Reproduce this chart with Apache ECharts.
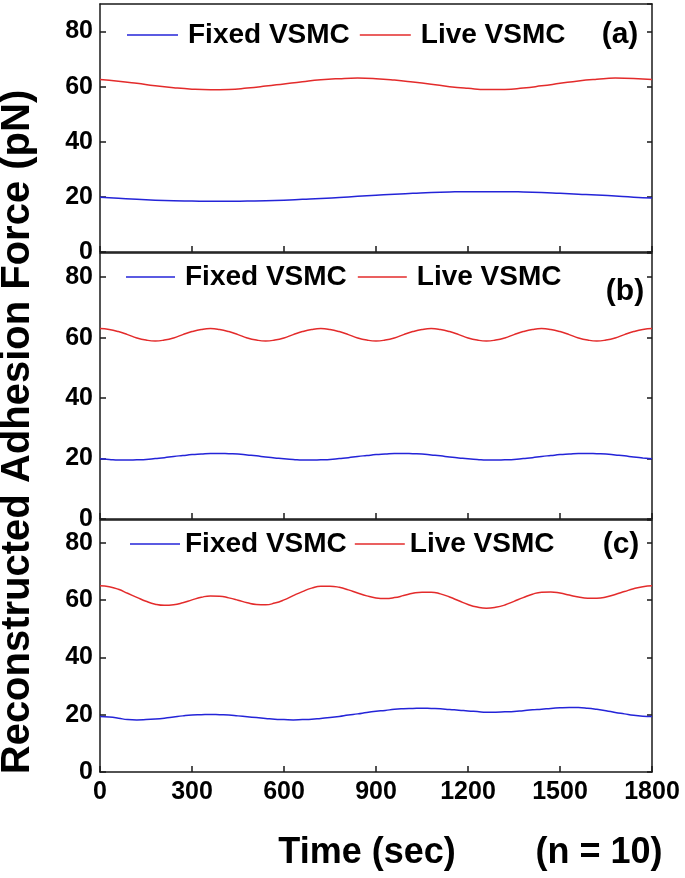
<!DOCTYPE html>
<html>
<head>
<meta charset="utf-8">
<script src="https://cdn.jsdelivr.net/npm/echarts@6/dist/echarts.min.js"></script>
<style>
html,body{margin:0;padding:0;background:#fff;}
#chart{width:685px;height:878px;}
</style>
</head>
<body>
<div id="chart"></div>
<script>
// ---- data ----
const seriesNames = ['Fixed VSMC', 'Live VSMC'];
const panelLabels = ['(a)', '(b)', '(c)'];
const xTickValues = [0, 300, 600, 900, 1200, 1500, 1800];
const yTickValues = [0, 20, 40, 60, 80];
const yMaxes = [90, 88, 88];

const timesA = [0,60,120,180,240,300,360,420,480,540,600,660,720,780,840,900,960,1020,1080,1140,1200,1260,1320,1380,1440,1500,1560,1620,1680,1740,1800];
const fixedA = [19.9,19.5,19.1,18.8,18.6,18.5,18.4,18.4,18.5,18.6,18.8,19.1,19.4,19.8,20.2,20.6,21.0,21.3,21.6,21.8,21.9,21.9,21.9,21.8,21.6,21.3,21.0,20.7,20.3,19.9,19.6];
const liveA = [62.6,62.0,61.2,60.3,59.6,59.1,58.9,59.0,59.5,60.2,61.0,61.8,62.5,62.9,63.1,62.9,62.4,61.7,60.9,60.0,59.4,59.0,59.0,59.5,60.3,61.2,62.1,62.7,63.1,63.0,62.6];

const timesBC = [0,30,60,90,120,150,180,210,240,270,300,330,360,390,420,450,480,510,540,570,600,630,660,690,720,750,780,810,840,870,900,930,960,990,1020,1050,1080,1110,1140,1170,1200,1230,1260,1290,1320,1350,1380,1410,1440,1470,1500,1530,1560,1590,1620,1650,1680,1710,1740,1770,1800];
const fixedB = [19.9,19.7,19.5,19.5,19.6,19.7,20.0,20.3,20.7,21.0,21.3,21.5,21.7,21.7,21.6,21.5,21.2,20.9,20.5,20.2,
  19.9,19.7,19.5,19.5,19.6,19.7,20.0,20.3,20.7,21.0,21.3,21.5,21.7,21.7,21.6,21.5,21.2,20.9,20.5,20.2,
  19.9,19.7,19.5,19.5,19.6,19.7,20.0,20.3,20.7,21.0,21.3,21.5,21.7,21.7,21.6,21.5,21.2,20.9,20.5,20.2,
  19.9];
const liveB = [63.0,62.7,62.0,61.0,59.9,59.2,58.9,59.2,59.9,61.0,62.0,62.7,
  63.0,62.7,62.0,61.0,59.9,59.2,58.9,59.2,59.9,61.0,62.0,62.7,
  63.0,62.7,62.0,61.0,59.9,59.2,58.9,59.2,59.9,61.0,62.0,62.7,
  63.0,62.7,62.0,61.0,59.9,59.2,58.9,59.2,59.9,61.0,62.0,62.7,
  63.0,62.7,62.0,61.0,59.9,59.2,58.9,59.2,59.9,61.0,62.0,62.7,
  63.0];
const fixedC = [19.4,19.2,18.8,18.3,18.2,18.3,18.5,18.8,19.2,19.6,19.9,20.0,20.1,20.0,19.9,19.6,19.3,19.0,18.7,18.4,
  18.3,18.2,18.3,18.4,18.7,19.0,19.4,19.9,20.3,20.8,21.2,21.5,21.9,22.1,22.2,22.3,22.2,22.1,21.8,21.6,
  21.3,21.1,20.9,20.9,21.0,21.1,21.4,21.7,21.9,22.2,22.4,22.5,22.5,22.3,21.9,21.4,20.8,20.3,19.8,19.5,
  19.4];
const liveC = [65.0,64.7,63.8,62.4,61.0,59.6,58.6,58.2,58.4,59.1,60.1,61.0,61.5,61.4,60.8,60.0,59.1,58.5,58.4,59.0,
  60.1,61.6,63.0,64.2,64.9,64.9,64.5,63.6,62.5,61.5,60.8,60.6,60.9,61.6,62.4,62.8,62.8,62.2,61.1,59.8,
  58.5,57.6,57.2,57.5,58.3,59.6,60.9,62.1,62.8,62.9,62.5,61.8,61.1,60.7,60.7,61.1,62.0,63.0,64.0,64.7,
  65.0];

// ---- layout / style ----
const FONT = '"Liberation Sans", Arial, sans-serif';
const BLUE = '#2424d8';
const RED = '#e32b2b';
const AXIS_COLOR = '#1a1a1a';
const grids = [
  {left: 100, width: 552, top: 4, height: 248},
  {left: 100, width: 552, top: 253, height: 266},
  {left: 100, width: 552, top: 520, height: 252}
];
const legendLayout = [
  {left: 122, top: 15, itemWidth: 51, textPad: 5, itemGap: 10},
  {left: 121, top: 257, itemWidth: 49, textPad: 5, itemGap: 11},
  {left: 125, top: 524, itemWidth: 50, textPad: 0, itemGap: 8}
];
const labelPos = [[620, 35], [625, 292], [621, 545]];

const xInterval = xTickValues[1] - xTickValues[0];
const yInterval = yTickValues[1] - yTickValues[0];
const xMin = xTickValues[0], xMax = xTickValues[xTickValues.length - 1];

const panels = [
  {times: timesA, fixed: fixedA, live: liveA},
  {times: timesBC, fixed: fixedB, live: liveB},
  {times: timesBC, fixed: fixedC, live: liveC}
];

function pairs(times, vals) { return times.map((t, i) => [t, vals[i]]); }
const plainNumber = v => String(v);

const axisLine = {show: true, onZero: false, lineStyle: {color: AXIS_COLOR, width: 1.5}};
const xAxes = [], yAxes = [], series = [], legends = [], graphics = [];

for (let p = 0; p < 3; p++) {
  xAxes.push({
    type: 'value', gridIndex: p, position: 'bottom',
    min: xMin, max: xMax, interval: xInterval,
    axisLine: axisLine,
    axisTick: {show: true, inside: true, length: 6, lineStyle: {color: AXIS_COLOR, width: 1.5}},
    axisLabel: {show: p === 2, formatter: plainNumber, color: '#000', fontFamily: FONT, fontWeight: 'bold', fontSize: 25, margin: 8},
    splitLine: {show: false}
  });
  yAxes.push({
    type: 'value', gridIndex: p, position: 'left',
    min: 0, max: yMaxes[p], interval: yInterval,
    axisLine: axisLine,
    axisTick: {show: true, inside: true, length: 6, lineStyle: {color: AXIS_COLOR, width: 1.5}},
    axisLabel: {show: true, showMaxLabel: false, formatter: plainNumber, color: '#000', fontFamily: FONT, fontWeight: 'bold', fontSize: 25, margin: 7},
    splitLine: {show: false}
  });
}
for (let p = 0; p < 3; p++) {
  xAxes.push({
    type: 'value', gridIndex: p, position: 'top',
    min: xMin, max: xMax, interval: xInterval,
    axisLine: axisLine, axisTick: {show: false}, axisLabel: {show: false}, splitLine: {show: false}
  });
  yAxes.push({
    type: 'value', gridIndex: p, position: 'right',
    min: 0, max: yMaxes[p], interval: yInterval,
    axisLine: axisLine,
    axisTick: {show: true, inside: true, length: 5, lineStyle: {color: AXIS_COLOR, width: 1.5}},
    axisLabel: {show: false}, splitLine: {show: false}
  });
}

for (let p = 0; p < 3; p++) {
  const d = panels[p];
  const L = legendLayout[p];
  series.push({
    name: seriesNames[0], type: 'line', xAxisIndex: p, yAxisIndex: p,
    data: pairs(d.times, d.fixed), smooth: true, symbol: 'none', showSymbol: false,
    lineStyle: {color: BLUE, width: 1.5}, itemStyle: {color: BLUE}, silent: true
  });
  series.push({
    name: seriesNames[1], type: 'line', xAxisIndex: p, yAxisIndex: p,
    data: pairs(d.times, d.live), smooth: true, symbol: 'none', showSymbol: false,
    lineStyle: {color: RED, width: 1.5}, itemStyle: {color: RED}, silent: true
  });
  legends.push({
    data: seriesNames, left: L.left, top: L.top, orient: 'horizontal',
    icon: 'rect', itemWidth: L.itemWidth, itemHeight: 1.5, itemGap: L.itemGap, selectedMode: false,
    textStyle: {color: '#000', fontFamily: FONT, fontWeight: 'bold', fontSize: 28, lineHeight: 30, padding: [0, 0, 0, L.textPad]}
  });
  graphics.push({
    type: 'text', x: labelPos[p][0], y: labelPos[p][1],
    style: {text: panelLabels[p], fill: '#000', font: 'bold 30px ' + FONT, textAlign: 'center', textVerticalAlign: 'middle'}
  });
}

graphics.push({
  type: 'text', x: 18, y: 432, rotation: Math.PI / 2,
  style: {text: 'Reconstructed Adhesion Force (pN)', fill: '#000', font: 'bold 40px ' + FONT, textAlign: 'center', textVerticalAlign: 'middle'}
});
graphics.push({
  type: 'text', x: 367, y: 853,
  style: {text: 'Time (sec)', fill: '#000', font: 'bold 36px ' + FONT, textAlign: 'center', textVerticalAlign: 'middle'}
});
graphics.push({
  type: 'text', x: 599, y: 853,
  style: {text: '(n = 10)', fill: '#000', font: 'bold 36px ' + FONT, textAlign: 'center', textVerticalAlign: 'middle'}
});

const chart = echarts.init(document.getElementById('chart'), null, {renderer: 'canvas'});
chart.setOption({
  animation: false,
  backgroundColor: '#fff',
  grid: grids,
  xAxis: xAxes,
  yAxis: yAxes,
  legend: legends,
  series: series,
  graphic: graphics
});
</script>
</body>
</html>
